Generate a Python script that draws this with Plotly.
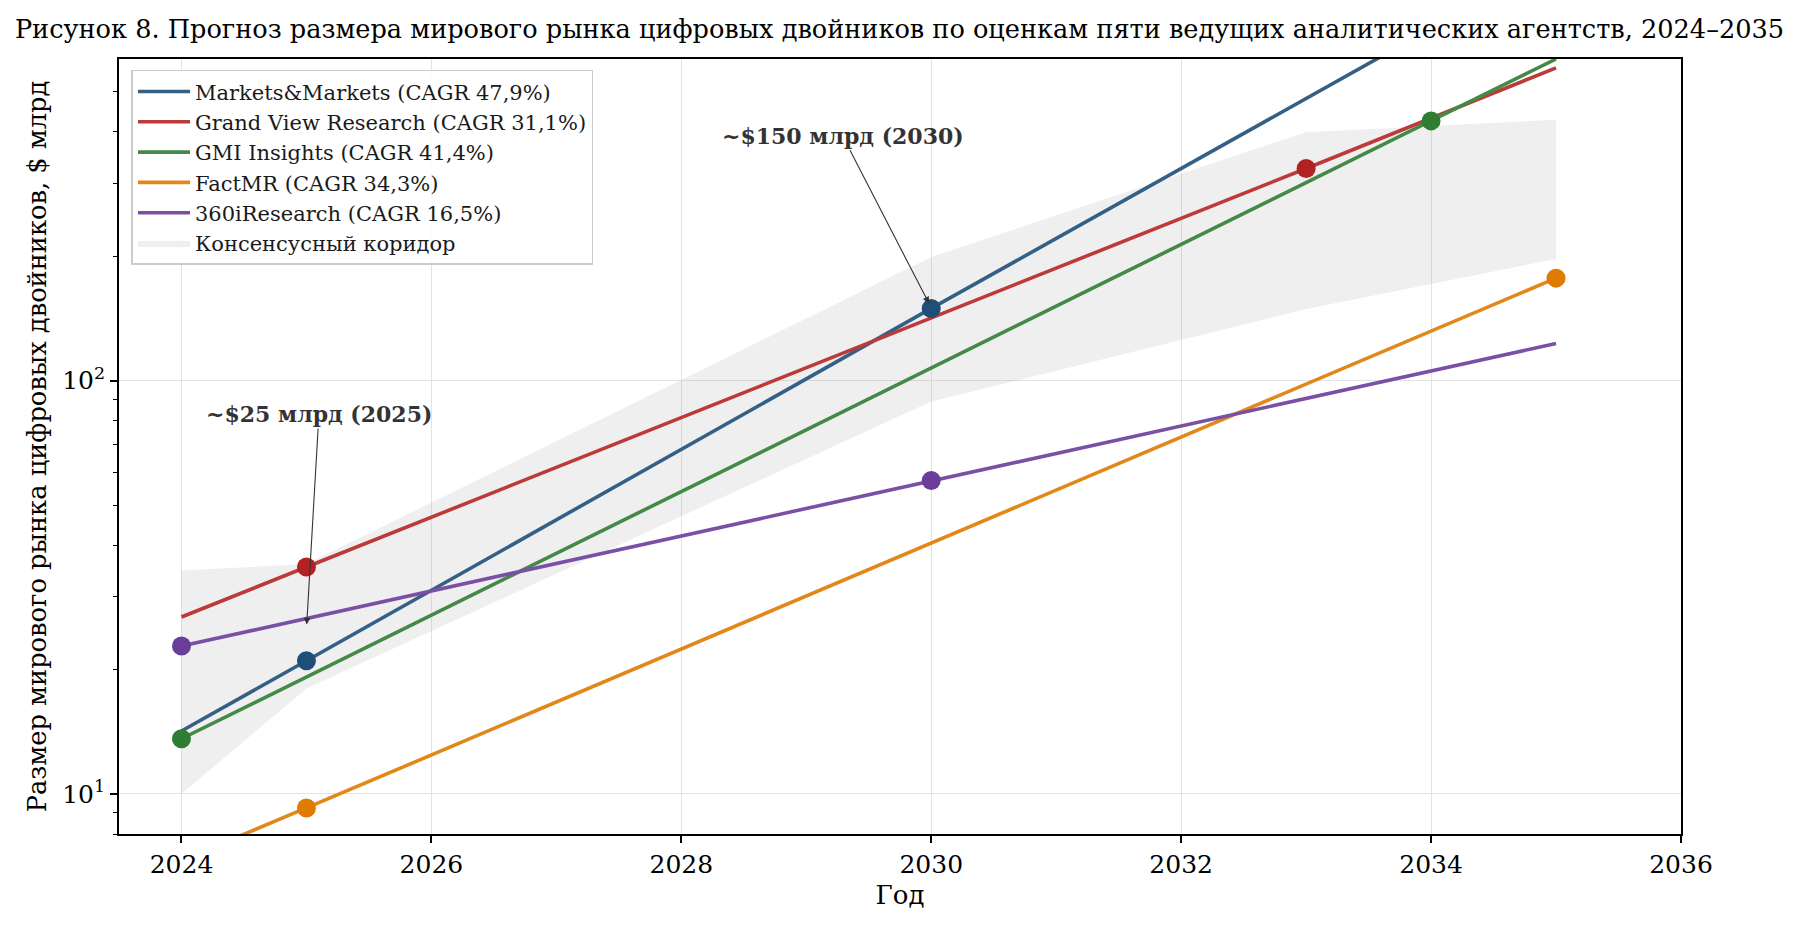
import math

import plotly.graph_objects as go

# значения, $ млрд
AGENCIES = [
    "Markets&Markets (CAGR 47,9%)",
    "Grand View Research (CAGR 31,1%)",
    "GMI Insights (CAGR 41,4%)",
    "FactMR (CAGR 34,3%)",
    "360iResearch (CAGR 16,5%)",
]
COLORS = ["#1f4e79", "#b22222", "#2e7d32", "#e07b00", "#6a3d9a"]
LINE_COLORS = ["#356086", "#bc3a3a", "#438a47", "#e2881a", "#7950a4"]

mm_years = [2024, 2025, 2030, 2035]
mm_values = [14.2, 21.0, 149.5, 1050]
mm_marked = [2025, 2030]

gvr_years = [2024, 2025, 2033, 2035]
gvr_values = [26.8, 35.4, 326, 571]
gvr_marked = [2025, 2033]

gmi_years = [2024, 2034, 2035]
gmi_values = [13.6, 425, 600]
gmi_marked = [2024, 2034]

fmr_years = [2024, 2025, 2035]
fmr_values = [6.9, 9.25, 177]
fmr_marked = [2025, 2035]

r360_years = [2024, 2030, 2035]
r360_values = [22.8, 57.3, 123]
r360_marked = [2024, 2030]

SERIES = [
    (mm_years, mm_values, mm_marked),
    (gvr_years, gvr_values, gvr_marked),
    (gmi_years, gmi_values, gmi_marked),
    (fmr_years, fmr_values, fmr_marked),
    (r360_years, r360_values, r360_marked),
]

corridor_years = [2024, 2025, 2030, 2033, 2035]
corridor_upper = [34.7, 36.0, 199, 399, 428]
corridor_lower = [10.0, 18.0, 89, 149, 197]

FONT = "DejaVu Serif"

# страница html имеет отступ body 8px, поэтому фигура чуть меньше окна
W, H = 1792, 921

fig = go.Figure()

fig.add_trace(go.Scatter(
    x=corridor_years + corridor_years[::-1],
    y=corridor_upper + corridor_lower[::-1],
    fill="toself",
    fillcolor="rgba(150,150,150,0.15)",
    line=dict(width=0),
    mode="lines",
    name="Консенсусный коридор",
    legendrank=1100,
    hoverinfo="skip",
))

for i, (name, (years, values, _)) in enumerate(zip(AGENCIES, SERIES)):
    fig.add_trace(go.Scatter(
        x=years, y=values, mode="lines", name=name,
        line=dict(color=LINE_COLORS[i], width=3.6),
        legendrank=1000 + i,
    ))

for i, (years, values, marked) in enumerate(SERIES):
    mx = [y for y in years if y in marked]
    my = [v for y, v in zip(years, values) if y in marked]
    fig.add_trace(go.Scatter(
        x=mx, y=my, mode="markers", showlegend=False,
        marker=dict(color=COLORS[i], size=19),
    ))

annotations = [
    ("~$25 млрд (2025)", 2025, 25, 2025.1, 83),
    ("~$150 млрд (2030)", 2030, 150, 2029.29, 391),
]
for text, x, y, tx, ty in annotations:
    fig.add_annotation(
        x=x, y=math.log10(y), ax=tx, ay=math.log10(ty),
        xref="x", yref="y", axref="x", ayref="y",
        text=f"<b>{text}</b>",
        font=dict(family=FONT, size=22, color="#333333"),
        showarrow=True, arrowhead=2, arrowsize=1.2, arrowwidth=1.1,
        arrowcolor="#333333", standoff=5,
    )

fig.update_layout(
    width=W,
    height=H,
    paper_bgcolor="white",
    plot_bgcolor="white",
    font=dict(family=FONT, size=25, color="black"),
    margin=dict(l=111, r=119, t=51, b=95),
    title=dict(
        text="Рисунок 8. Прогноз размера мирового рынка цифровых двойников по оценкам пяти ведущих аналитических агентств, 2024–2035",
        x=891.5 / W, xanchor="center", y=1 - 21 / H, yanchor="middle",
        font=dict(family=FONT, size=25.6, color="black"),
    ),
    legend=dict(
        x=0.008, y=0.986, xanchor="left", yanchor="top",
        bgcolor="rgba(255,255,255,0.85)",
        bordercolor="#cccccc", borderwidth=1.5,
        itemwidth=52,
        font=dict(family=FONT, size=21, color="#1a1a1a"),
    ),
    showlegend=True,
)

fig.update_xaxes(
    range=[2023.5, 2036],
    tick0=2024, dtick=2,
    showgrid=True, gridcolor="#e3e3e3", gridwidth=1,
    showline=True, linecolor="black", linewidth=1.7, mirror=True,
    ticks="outside", ticklen=7, tickwidth=1.5, tickcolor="black",
    zeroline=False,
    title=dict(text="Год", font=dict(family=FONT, size=26), standoff=8),
)

fig.update_yaxes(
    type="log",
    range=[math.log10(8), math.log10(600)],
    tickvals=[10, 100],
    ticktext=["10<sup>1</sup>", "10<sup>2</sup>"],
    showgrid=True, gridcolor="#e3e3e3", gridwidth=1,
    showline=True, linecolor="black", linewidth=1.7, mirror=True,
    ticks="outside", ticklen=7, tickwidth=1.5, tickcolor="black",
    minor=dict(
        tickvals=[8, 9, 20, 30, 40, 50, 60, 70, 80, 90, 200, 300, 400, 500],
        ticks="outside", ticklen=4, tickwidth=1.2, tickcolor="black",
        showgrid=False,
    ),
    zeroline=False,
    automargin=False,
    title=dict(
        text="Размер мирового рынка цифровых двойников, $ млрд",
        font=dict(family=FONT, size=25.7), standoff=8,
    ),
)

fig.write_html("out.html")
